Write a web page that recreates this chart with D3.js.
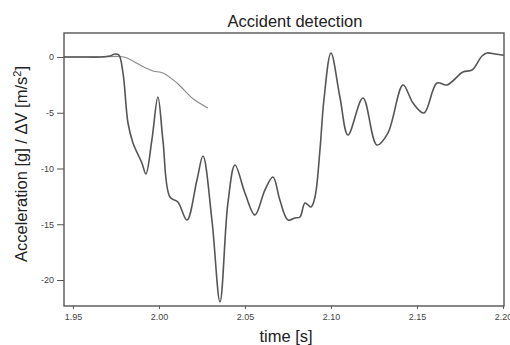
<!DOCTYPE html>
<html>
<head>
<meta charset="utf-8">
<script src="https://cdn.jsdelivr.net/npm/d3@7"></script>
<style>
  body { margin: 0; background: #fff; }
  svg { display: block; font-family: "Liberation Sans", Arial, sans-serif; }
</style>
</head>
<body>
<div id="chart"></div>
<script>
// Acceleration trace (dark line)
const accTime = [1.9448, 1.9541, 1.9657, 1.9715, 1.9744, 1.9767, 1.9791, 1.9820, 1.9849, 1.9901,
    1.9924, 1.9959, 1.9994, 2.0023, 2.0064, 2.0110, 2.0163, 2.0221, 2.0256, 2.0308,
    2.0355, 2.0401, 2.0442, 2.0500, 2.0558, 2.0616, 2.0663, 2.0703, 2.0750, 2.0791,
    2.0820, 2.0849, 2.0884, 2.0907, 2.0936, 2.0959, 2.1000, 2.1052, 2.1099, 2.1186,
    2.1267, 2.1331, 2.1419, 2.1477, 2.1541, 2.1616, 2.1674, 2.1767, 2.1820, 2.1878,
    2.1907, 2.1953, 2.2005];
const accValues = [0, 0, 0, 0.09, 0.27, 0.18, -1.43, -5.92, -7.71, -9.51,
    -10.49, -7.44, -3.59, -7.44, -12.56, -13.0, -14.62, -11.03, -8.88, -14.62,
    -21.97, -13.09, -9.69, -12.2, -14.17, -11.93, -10.76, -12.83, -14.62, -14.44,
    -14.35, -13.09, -13.45, -12.56, -8.34, -3.86, 0.36, -3.59, -7.0, -3.68,
    -7.89, -6.82, -2.51, -4.13, -5.02, -2.33, -2.51, -1.35, -1.17, 0.09,
    0.36, 0.27, 0.15];

// Delta V trace (light line)
const dvTime = [1.9448, 1.9657, 1.9773, 1.9814, 1.9890, 1.9965, 2.0023, 2.0105, 2.0198, 2.0285];
const dvValues = [0, 0, 0.04, -0.09, -0.72, -1.25, -1.43, -2.33, -3.75, -4.57];

const yTicks = [0, -5, -10, -15, -20];
const xTicks = [1.95, 2.00, 2.05, 2.10, 2.15, 2.20];

const width = 510, height = 345;
const margin = {top: 33, right: 6, bottom: 39, left: 64};

const svg = d3.select("#chart").append("svg")
    .attr("width", width)
    .attr("height", height);

const x = d3.scaleLinear()
    .domain([1.9448, 2.2006])
    .range([margin.left, width - margin.right]);

const y = d3.scaleLinear()
    .domain([-22.33, 2.15])
    .range([height - margin.bottom, margin.top]);

// Y axis
const yAxis = svg.append("g")
    .attr("transform", `translate(${margin.left},0)`)
    .call(d3.axisLeft(y).tickValues(yTicks).tickSize(7).tickPadding(3).tickFormat(d => String(d)));
yAxis.select(".domain").remove();
yAxis.selectAll("line").attr("stroke", "#555");
yAxis.selectAll("text").attr("fill", "#444").style("font-size", "9px").style("font-family", "Liberation Sans, Arial, sans-serif");

// X axis
const xAxis = svg.append("g")
    .attr("transform", `translate(0,${height - margin.bottom})`)
    .call(d3.axisBottom(x).tickValues(xTicks).tickSize(3).tickPadding(5).tickFormat(d3.format(".2f")));
xAxis.select(".domain").remove();
xAxis.selectAll("line").attr("stroke", "#555");
xAxis.selectAll("text").attr("fill", "#444").style("font-size", "9px").style("font-family", "Liberation Sans, Arial, sans-serif");

// Lines, smoothed through the read points
const line = d3.line()
    .x(d => x(d[0]))
    .y(d => y(d[1]))
    .curve(d3.curveCatmullRom.alpha(0.5));

svg.append("path")
    .datum(dvTime.map((t, i) => [t, dvValues[i]]))
    .attr("fill", "none")
    .attr("stroke", "#8a8a8a")
    .attr("stroke-width", 1.1)
    .attr("d", line);

svg.append("path")
    .datum(accTime.map((t, i) => [t, accValues[i]]))
    .attr("fill", "none")
    .attr("stroke", "#555")
    .attr("stroke-width", 1.6)
    .attr("d", line);

// Frame
svg.append("rect")
    .attr("x", margin.left)
    .attr("y", margin.top)
    .attr("width", width - margin.left - margin.right)
    .attr("height", height - margin.top - margin.bottom)
    .attr("fill", "none")
    .attr("stroke", "#555")
    .attr("stroke-width", 1.4);

// Title and axis labels
svg.append("text")
    .attr("x", 295)
    .attr("y", 27)
    .attr("text-anchor", "middle")
    .attr("fill", "#222")
    .style("font-size", "16.5px")
    .text("Accident detection");

svg.append("text")
    .attr("x", 286)
    .attr("y", 342)
    .attr("text-anchor", "middle")
    .attr("fill", "#222")
    .style("font-size", "16.5px")
    .text("time [s]");

const yLabel = svg.append("text")
    .attr("transform", "translate(27,164) rotate(-90)")
    .attr("text-anchor", "middle")
    .attr("fill", "#222")
    .style("font-size", "16.5px");
yLabel.append("tspan").text("Acceleration [g] / \u0394V [m/s");
yLabel.append("tspan").attr("dy", -6).style("font-size", "11px").text("2");
yLabel.append("tspan").attr("dy", 6).text("]");
</script>
</body>
</html>
